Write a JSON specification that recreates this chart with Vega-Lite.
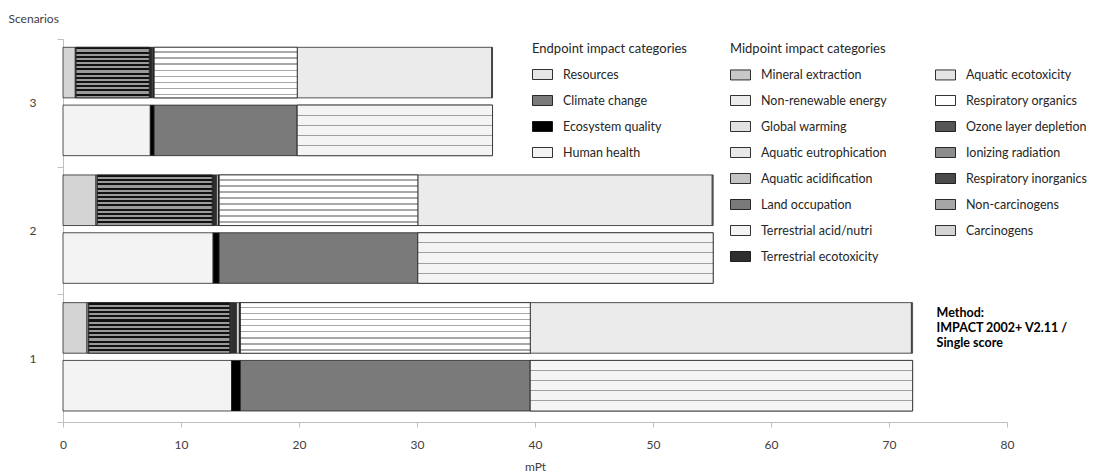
{
  "$schema": "https://vega.github.io/schema/vega-lite/v6.json",
  "width": 944,
  "height": 383,
  "autosize": {"type": "none"},
  "padding": {"left": 63, "top": 39, "right": 91, "bottom": 54},
  "background": "white",
  "config": {
    "font": "Lato",
    "view": {"stroke": null},
    "axis": {
      "labelFont": "Lato", "titleFont": "Lato",
      "labelColor": "#404040", "titleColor": "#404040",
      "labelFontSize": 12, "titleFontSize": 12, "titleFontWeight": "normal",
      "domainColor": "#bfbfbf", "tickColor": "#bfbfbf", "grid": false
    },
    "legend": {
      "orient": "none",
      "titleFont": "Lato", "labelFont": "Lato",
      "titleFontSize": 13, "labelFontSize": 12.5,
      "titleFontWeight": "normal", "titleColor": "#262626", "labelColor": "#262626",
      "symbolType": "M-1,-0.5H1V0.5H-1Z",
      "symbolSize": 400,
      "symbolStrokeColor": "#000000",
      "symbolStrokeWidth": 0.8,
      "labelOffset": 10,
      "rowPadding": 8,
      "titlePadding": 8,
      "padding": 0,
      "labelLimit": 200
    }
  },
  "data": {
    "values": [
      {"scenario": "1", "level": "Midpoint", "category": "Carcinogens", "k": 1, "value": 2.03},
      {"scenario": "1", "level": "Midpoint", "category": "Non-carcinogens", "k": 2, "value": 0.15},
      {"scenario": "1", "level": "Midpoint", "category": "Respiratory inorganics", "k": 3, "value": 11.95},
      {"scenario": "1", "level": "Midpoint", "category": "Ionizing radiation", "k": 4, "value": 0.05},
      {"scenario": "1", "level": "Midpoint", "category": "Ozone layer depletion", "k": 5, "value": 0.05},
      {"scenario": "1", "level": "Midpoint", "category": "Respiratory organics", "k": 6, "value": 0.05},
      {"scenario": "1", "level": "Midpoint", "category": "Aquatic ecotoxicity", "k": 7, "value": 0.06},
      {"scenario": "1", "level": "Midpoint", "category": "Terrestrial ecotoxicity", "k": 8, "value": 0.38},
      {"scenario": "1", "level": "Midpoint", "category": "Terrestrial acid/nutri", "k": 9, "value": 0.22},
      {"scenario": "1", "level": "Midpoint", "category": "Land occupation", "k": 10, "value": 0.07},
      {"scenario": "1", "level": "Midpoint", "category": "Aquatic acidification", "k": 11, "value": 0.02},
      {"scenario": "1", "level": "Midpoint", "category": "Aquatic eutrophication", "k": 12, "value": 0.01},
      {"scenario": "1", "level": "Midpoint", "category": "Global warming", "k": 13, "value": 24.56},
      {"scenario": "1", "level": "Midpoint", "category": "Non-renewable energy", "k": 14, "value": 32.3},
      {"scenario": "1", "level": "Midpoint", "category": "Mineral extraction", "k": 15, "value": 0.1},
      {"scenario": "2", "level": "Midpoint", "category": "Carcinogens", "k": 1, "value": 2.79},
      {"scenario": "2", "level": "Midpoint", "category": "Non-carcinogens", "k": 2, "value": 0.12},
      {"scenario": "2", "level": "Midpoint", "category": "Respiratory inorganics", "k": 3, "value": 9.73},
      {"scenario": "2", "level": "Midpoint", "category": "Ionizing radiation", "k": 4, "value": 0.03},
      {"scenario": "2", "level": "Midpoint", "category": "Ozone layer depletion", "k": 5, "value": 0.02},
      {"scenario": "2", "level": "Midpoint", "category": "Respiratory organics", "k": 6, "value": 0.03},
      {"scenario": "2", "level": "Midpoint", "category": "Aquatic ecotoxicity", "k": 7, "value": 0.05},
      {"scenario": "2", "level": "Midpoint", "category": "Terrestrial ecotoxicity", "k": 8, "value": 0.26},
      {"scenario": "2", "level": "Midpoint", "category": "Terrestrial acid/nutri", "k": 9, "value": 0.14},
      {"scenario": "2", "level": "Midpoint", "category": "Land occupation", "k": 10, "value": 0.05},
      {"scenario": "2", "level": "Midpoint", "category": "Aquatic acidification", "k": 11, "value": 0.015},
      {"scenario": "2", "level": "Midpoint", "category": "Aquatic eutrophication", "k": 12, "value": 0.005},
      {"scenario": "2", "level": "Midpoint", "category": "Global warming", "k": 13, "value": 16.83},
      {"scenario": "2", "level": "Midpoint", "category": "Non-renewable energy", "k": 14, "value": 24.95},
      {"scenario": "2", "level": "Midpoint", "category": "Mineral extraction", "k": 15, "value": 0.08},
      {"scenario": "3", "level": "Midpoint", "category": "Carcinogens", "k": 1, "value": 1.04},
      {"scenario": "3", "level": "Midpoint", "category": "Non-carcinogens", "k": 2, "value": 0.07},
      {"scenario": "3", "level": "Midpoint", "category": "Respiratory inorganics", "k": 3, "value": 6.2},
      {"scenario": "3", "level": "Midpoint", "category": "Ionizing radiation", "k": 4, "value": 0.03},
      {"scenario": "3", "level": "Midpoint", "category": "Ozone layer depletion", "k": 5, "value": 0.03},
      {"scenario": "3", "level": "Midpoint", "category": "Respiratory organics", "k": 6, "value": 0.03},
      {"scenario": "3", "level": "Midpoint", "category": "Aquatic ecotoxicity", "k": 7, "value": 0.03},
      {"scenario": "3", "level": "Midpoint", "category": "Terrestrial ecotoxicity", "k": 8, "value": 0.17},
      {"scenario": "3", "level": "Midpoint", "category": "Terrestrial acid/nutri", "k": 9, "value": 0.09},
      {"scenario": "3", "level": "Midpoint", "category": "Land occupation", "k": 10, "value": 0.03},
      {"scenario": "3", "level": "Midpoint", "category": "Aquatic acidification", "k": 11, "value": 0.008},
      {"scenario": "3", "level": "Midpoint", "category": "Aquatic eutrophication", "k": 12, "value": 0.002},
      {"scenario": "3", "level": "Midpoint", "category": "Global warming", "k": 13, "value": 12.12},
      {"scenario": "3", "level": "Midpoint", "category": "Non-renewable energy", "k": 14, "value": 16.48},
      {"scenario": "3", "level": "Midpoint", "category": "Mineral extraction", "k": 15, "value": 0.07},
      {"scenario": "1", "level": "Endpoint", "category": "Human health", "k": 1, "value": 14.28},
      {"scenario": "1", "level": "Endpoint", "category": "Ecosystem quality", "k": 2, "value": 0.76},
      {"scenario": "1", "level": "Endpoint", "category": "Climate change", "k": 3, "value": 24.56},
      {"scenario": "1", "level": "Endpoint", "category": "Resources", "k": 4, "value": 32.4},
      {"scenario": "2", "level": "Endpoint", "category": "Human health", "k": 1, "value": 12.72},
      {"scenario": "2", "level": "Endpoint", "category": "Ecosystem quality", "k": 2, "value": 0.52},
      {"scenario": "2", "level": "Endpoint", "category": "Climate change", "k": 3, "value": 16.83},
      {"scenario": "2", "level": "Endpoint", "category": "Resources", "k": 4, "value": 25.03},
      {"scenario": "3", "level": "Endpoint", "category": "Human health", "k": 1, "value": 7.4},
      {"scenario": "3", "level": "Endpoint", "category": "Ecosystem quality", "k": 2, "value": 0.33},
      {"scenario": "3", "level": "Endpoint", "category": "Climate change", "k": 3, "value": 12.12},
      {"scenario": "3", "level": "Endpoint", "category": "Resources", "k": 4, "value": 16.55}
    ]
  },
  "encoding": {
    "y": {
      "field": "scenario", "type": "nominal",
      "scale": {"domain": ["3", "2", "1"], "paddingInner": 0, "paddingOuter": 0},
      "axis": {
        "title": "Scenarios", "titleAngle": 0, "titleAlign": "left", "titleBaseline": "middle",
        "titleX": -55, "titleY": -21,
        "tickBand": "extent", "tickSize": 6, "labelPadding": 21, "labelAngle": 0
      }
    },
    "yOffset": {
      "field": "level", "type": "nominal",
      "scale": {"domain": ["Midpoint", "Endpoint"], "paddingInner": 0.125, "paddingOuter": 0.167, "align": 0.43}
    },
    "x": {
      "field": "value", "type": "quantitative", "stack": "zero",
      "scale": {"domain": [0, 80], "nice": false},
      "axis": {
        "title": "mPt", "values": [0, 10, 20, 30, 40, 50, 60, 70, 80],
        "tickSize": 5, "labelPadding": 12, "titlePadding": 11, "labelFlush": false
      }
    }
  },
  "layer": [
    {
      "transform": [{"filter": "datum.level === 'Midpoint'"}],
      "mark": {"type": "bar", "stroke": "#262626", "strokeWidth": 0.8},
      "encoding": {
        "color": {
          "field": "category", "type": "nominal",
          "scale": {
            "domain": ["Mineral extraction", "Non-renewable energy", "Global warming", "Aquatic eutrophication", "Aquatic acidification", "Land occupation", "Terrestrial acid/nutri", "Terrestrial ecotoxicity", "Aquatic ecotoxicity", "Respiratory organics", "Ozone layer depletion", "Ionizing radiation", "Respiratory inorganics", "Non-carcinogens", "Carcinogens"],
            "range": ["#c8c8c8", "#ebebeb", "#e2e2e2", "#e8e8e8", "#c4c4c4", "#7a7a7a", "#f4f4f4", "#2e2e2e", "#e4e4e4", "#ffffff", "#555555", "#8c8c8c", "#4a4a4a", "#a6a6a6", "#d4d4d4"]
          },
          "legend": {"title": "Midpoint impact categories", "columns": 2, "columnPadding": 46, "legendX": 667, "legendY": 4}
        },
        "order": {"field": "k", "type": "quantitative"}
      }
    },
    {
      "transform": [{"filter": "datum.level === 'Endpoint'"}],
      "mark": {"type": "bar", "stroke": "#262626", "strokeWidth": 0.8},
      "encoding": {
        "color": {
          "field": "category", "type": "nominal",
          "scale": {
            "domain": ["Resources", "Climate change", "Ecosystem quality", "Human health"],
            "range": ["#e6e6e6", "#7a7a7a", "#000000", "#f3f3f3"]
          },
          "legend": {"title": "Endpoint impact categories", "legendX": 469, "legendY": 4}
        },
        "order": {"field": "k", "type": "quantitative"}
      }
    },
    {
      "transform": [
        {"stack": "value", "groupby": ["scenario", "level"], "sort": [{"field": "k", "order": "ascending"}], "as": ["v0", "v1"]},
        {"filter": "datum.category === 'Global warming'"}
      ],
      "mark": {"type": "bar", "stroke": "#262626", "strokeWidth": 0.8,
        "fill": {"gradient": "linear", "x1": 0, "y1": 0, "x2": 0, "y2": 1, "stops": [
          {"offset": 0, "color": "#ffffff"},
          {"offset": 0.08, "color": "#ffffff"}, {"offset": 0.08, "color": "#a8a8a8"}, {"offset": 0.11, "color": "#a8a8a8"}, {"offset": 0.11, "color": "#ffffff"},
          {"offset": 0.2, "color": "#ffffff"}, {"offset": 0.2, "color": "#a8a8a8"}, {"offset": 0.23, "color": "#a8a8a8"}, {"offset": 0.23, "color": "#ffffff"},
          {"offset": 0.32, "color": "#ffffff"}, {"offset": 0.32, "color": "#a8a8a8"}, {"offset": 0.35, "color": "#a8a8a8"}, {"offset": 0.35, "color": "#ffffff"},
          {"offset": 0.44, "color": "#ffffff"}, {"offset": 0.44, "color": "#a8a8a8"}, {"offset": 0.47, "color": "#a8a8a8"}, {"offset": 0.47, "color": "#ffffff"},
          {"offset": 0.56, "color": "#ffffff"}, {"offset": 0.56, "color": "#a8a8a8"}, {"offset": 0.59, "color": "#a8a8a8"}, {"offset": 0.59, "color": "#ffffff"},
          {"offset": 0.68, "color": "#ffffff"}, {"offset": 0.68, "color": "#a8a8a8"}, {"offset": 0.71, "color": "#a8a8a8"}, {"offset": 0.71, "color": "#ffffff"},
          {"offset": 0.8, "color": "#ffffff"}, {"offset": 0.8, "color": "#a8a8a8"}, {"offset": 0.83, "color": "#a8a8a8"}, {"offset": 0.83, "color": "#ffffff"},
          {"offset": 0.92, "color": "#ffffff"}, {"offset": 0.92, "color": "#a8a8a8"}, {"offset": 0.95, "color": "#a8a8a8"}, {"offset": 0.95, "color": "#ffffff"},
          {"offset": 1, "color": "#ffffff"}
        ]}
      },
      "encoding": {
        "x": {"field": "v0", "type": "quantitative", "title": "mPt"},
        "x2": {"field": "v1"}
      }
    },
    {
      "transform": [
        {"stack": "value", "groupby": ["scenario", "level"], "sort": [{"field": "k", "order": "ascending"}], "as": ["v0", "v1"]},
        {"filter": "datum.category === 'Respiratory inorganics'"}
      ],
      "mark": {"type": "bar", "stroke": "#262626", "strokeWidth": 0.8,
        "fill": {"gradient": "linear", "x1": 0, "y1": 0, "x2": 0, "y2": 1, "stops": [
          {"offset": 0, "color": "#111111"}, {"offset": 0.04, "color": "#111111"}, {"offset": 0.04, "color": "#9a9a9a"},
          {"offset": 0.0833, "color": "#9a9a9a"}, {"offset": 0.0833, "color": "#111111"}, {"offset": 0.1233, "color": "#111111"}, {"offset": 0.1233, "color": "#9a9a9a"},
          {"offset": 0.1667, "color": "#9a9a9a"}, {"offset": 0.1667, "color": "#111111"}, {"offset": 0.2067, "color": "#111111"}, {"offset": 0.2067, "color": "#9a9a9a"},
          {"offset": 0.25, "color": "#9a9a9a"}, {"offset": 0.25, "color": "#111111"}, {"offset": 0.29, "color": "#111111"}, {"offset": 0.29, "color": "#9a9a9a"},
          {"offset": 0.3333, "color": "#9a9a9a"}, {"offset": 0.3333, "color": "#111111"}, {"offset": 0.3733, "color": "#111111"}, {"offset": 0.3733, "color": "#9a9a9a"},
          {"offset": 0.4167, "color": "#9a9a9a"}, {"offset": 0.4167, "color": "#111111"}, {"offset": 0.4567, "color": "#111111"}, {"offset": 0.4567, "color": "#9a9a9a"},
          {"offset": 0.5, "color": "#9a9a9a"}, {"offset": 0.5, "color": "#111111"}, {"offset": 0.54, "color": "#111111"}, {"offset": 0.54, "color": "#9a9a9a"},
          {"offset": 0.5833, "color": "#9a9a9a"}, {"offset": 0.5833, "color": "#111111"}, {"offset": 0.6233, "color": "#111111"}, {"offset": 0.6233, "color": "#9a9a9a"},
          {"offset": 0.6667, "color": "#9a9a9a"}, {"offset": 0.6667, "color": "#111111"}, {"offset": 0.7067, "color": "#111111"}, {"offset": 0.7067, "color": "#9a9a9a"},
          {"offset": 0.75, "color": "#9a9a9a"}, {"offset": 0.75, "color": "#111111"}, {"offset": 0.79, "color": "#111111"}, {"offset": 0.79, "color": "#9a9a9a"},
          {"offset": 0.8333, "color": "#9a9a9a"}, {"offset": 0.8333, "color": "#111111"}, {"offset": 0.8733, "color": "#111111"}, {"offset": 0.8733, "color": "#9a9a9a"},
          {"offset": 0.9167, "color": "#9a9a9a"}, {"offset": 0.9167, "color": "#111111"}, {"offset": 0.9567, "color": "#111111"}, {"offset": 0.9567, "color": "#9a9a9a"},
          {"offset": 1, "color": "#9a9a9a"}
        ]}
      },
      "encoding": {
        "x": {"field": "v0", "type": "quantitative", "title": "mPt"},
        "x2": {"field": "v1"}
      }
    },
    {
      "transform": [
        {"stack": "value", "groupby": ["scenario", "level"], "sort": [{"field": "k", "order": "ascending"}], "as": ["v0", "v1"]},
        {"filter": "datum.category === 'Resources'"}
      ],
      "mark": {"type": "bar", "stroke": "#262626", "strokeWidth": 0.8,
        "fill": {"gradient": "linear", "x1": 0, "y1": 0, "x2": 0, "y2": 1, "stops": [
          {"offset": 0, "color": "#f4f4f4"},
          {"offset": 0.19, "color": "#f4f4f4"}, {"offset": 0.19, "color": "#a0a0a0"}, {"offset": 0.21, "color": "#a0a0a0"}, {"offset": 0.21, "color": "#f4f4f4"},
          {"offset": 0.39, "color": "#f4f4f4"}, {"offset": 0.39, "color": "#a0a0a0"}, {"offset": 0.41, "color": "#a0a0a0"}, {"offset": 0.41, "color": "#f4f4f4"},
          {"offset": 0.59, "color": "#f4f4f4"}, {"offset": 0.59, "color": "#a0a0a0"}, {"offset": 0.61, "color": "#a0a0a0"}, {"offset": 0.61, "color": "#f4f4f4"},
          {"offset": 0.79, "color": "#f4f4f4"}, {"offset": 0.79, "color": "#a0a0a0"}, {"offset": 0.81, "color": "#a0a0a0"}, {"offset": 0.81, "color": "#f4f4f4"},
          {"offset": 1, "color": "#f4f4f4"}
        ]}
      },
      "encoding": {
        "x": {"field": "v0", "type": "quantitative", "title": "mPt"},
        "x2": {"field": "v1"}
      }
    },
    {
      "transform": [
        {"filter": "datum.scenario === '1' && datum.level === 'Midpoint'"},
        {"aggregate": [{"op": "sum", "field": "value", "as": "total"}], "groupby": ["scenario", "level"]}
      ],
      "mark": {"type": "text", "align": "left", "baseline": "middle", "dx": 24, "dy": -15, "fontWeight": "bold", "fontSize": 12.5, "lineHeight": 15, "fill": "#000000", "font": "Lato"},
      "encoding": {
        "x": {"field": "total", "type": "quantitative", "title": "mPt"},
        "text": {"value": ["Method:", "IMPACT 2002+ V2.11 /", "Single score"]}
      }
    }
  ],
  "resolve": {"scale": {"color": "independent"}, "legend": {"color": "independent"}}
}
